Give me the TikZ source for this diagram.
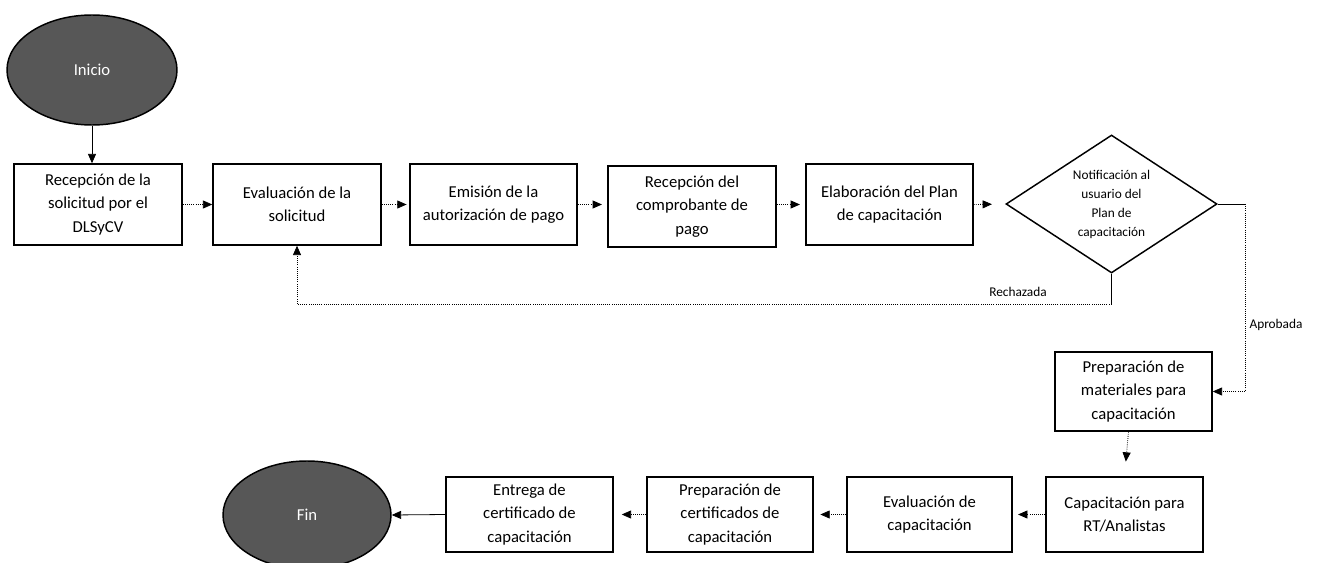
\documentclass[tikz,border=0pt]{standalone}
\usepackage{fontspec}
\setmainfont{Carlito}
\usetikzlibrary{shapes.geometric,arrows.meta}
\begin{document}
\begin{tikzpicture}[x=0.75pt,y=-0.75pt,
  box/.style={draw=black,line width=1.1pt,fill=white,inner sep=0pt,align=center,font=\fontsize{12.5}{17.5}\selectfont},
  term/.style={ellipse,draw=black,line width=1.1pt,fill=black!66,text=white,inner sep=0pt,font=\fontsize{12.5}{14}\selectfont},
  dec/.style={diamond,draw=black,line width=1.1pt,fill=white,inner sep=0pt,aspect=1.53,align=center,font=\fontsize{10}{14.25}\selectfont},
  conn/.style={line width=0.6pt,densely dotted,-{Triangle[length=7pt,width=6pt]}},
  sconn/.style={line width=0.6pt,-{Triangle[length=7pt,width=6pt]}},
  plain/.style={line width=0.6pt},
  lbl/.style={font=\fontsize{10}{12}\selectfont}]
\useasboundingbox (0,0) rectangle (1321,563);

\node[term,minimum width=170*0.75pt,minimum height=110*0.75pt] (ini) at (92,70) {Inicio};
\node[box,minimum width=168*0.75pt,minimum height=81*0.75pt] (b1) at (98,204.5) {Recepción de la\\solicitud por el\\DLSyCV};
\node[box,minimum width=168*0.75pt,minimum height=81*0.75pt] (b2) at (297,204.5) {Evaluación de la\\solicitud};
\node[box,minimum width=167*0.75pt,minimum height=81*0.75pt] (b3) at (493.5,204.5) {Emisión de la\\autorización de pago};
\node[box,minimum width=168*0.75pt,minimum height=81*0.75pt] (b4) at (692,206.5) {Recepción del\\comprobante de\\pago};
\node[box,minimum width=167*0.75pt,minimum height=81*0.75pt] (b5) at (889.5,204.5) {Elaboración del Plan\\de capacitación};
\node[dec,minimum width=211*0.75pt,minimum height=138*0.75pt] (d) at (1111.5,204) {Notificación al\\usuario del\\Plan de\\capacitación};
\node[box,minimum width=157*0.75pt,minimum height=79*0.75pt] (b6) at (1133.5,391.5) {Preparación de\\materiales para\\capacitación};
\node[box,minimum width=157*0.75pt,minimum height=75*0.75pt] (b7) at (1124.5,514.5) {Capacitación para\\RT/Analistas};
\node[box,minimum width=165*0.75pt,minimum height=75*0.75pt] (b8) at (929.5,514.5) {Evaluación de\\capacitación};
\node[box,minimum width=166*0.75pt,minimum height=75*0.75pt] (b9) at (730,514.5) {Preparación de\\certificados de\\capacitación};
\node[box,minimum width=167*0.75pt,minimum height=75*0.75pt] (b10) at (529.5,514.5) {Entrega de\\certificado de\\capacitación};
\node[term,minimum width=168*0.75pt,minimum height=108*0.75pt] (fin) at (307,515) {Fin};

\node[lbl] (rl) at (1018,292) {Rechazada};
\node[lbl] (al) at (1276,325) {Aprobada};

\coordinate (r1) at (1111.5,304);
\coordinate (a1) at (1245,204);
\coordinate (a2) at (1245,391.5);

\draw[sconn] (ini.south) -- (ini.south |- b1.north);
\draw[conn] (b1.east) -- (b2.west);
\draw[conn,shorten >=2pt] (b2.east) -- (b3.west);
\draw[conn,shorten >=4pt] (b3.east) -- (b3.east -| b4.west);
\draw[conn,shorten >=4pt] (b4.east |- b5.east) -- (b5.west);
\draw[conn,shorten >=10pt] (b5.east) -- (d.west);
\draw[plain] (d.south) -- (r1);
\draw[conn] (r1) -| (b2.south);
\draw[plain] (d.east) -- (a1);
\draw[conn] (a1) -- (a2) -- (b6.east);
\draw[conn,shorten >=11pt] (b6.south -| b7.north) ++(4,0) -- (b7.north);
\draw[conn,shorten >=4pt] (b7.west) -- (b8.east);
\draw[conn,shorten >=5pt] (b8.west) -- (b9.east);
\draw[conn,shorten >=6pt] (b9.west) -- (b10.east);
\draw[sconn] (b10.west) -- (fin.east);
\end{tikzpicture}
\end{document}
